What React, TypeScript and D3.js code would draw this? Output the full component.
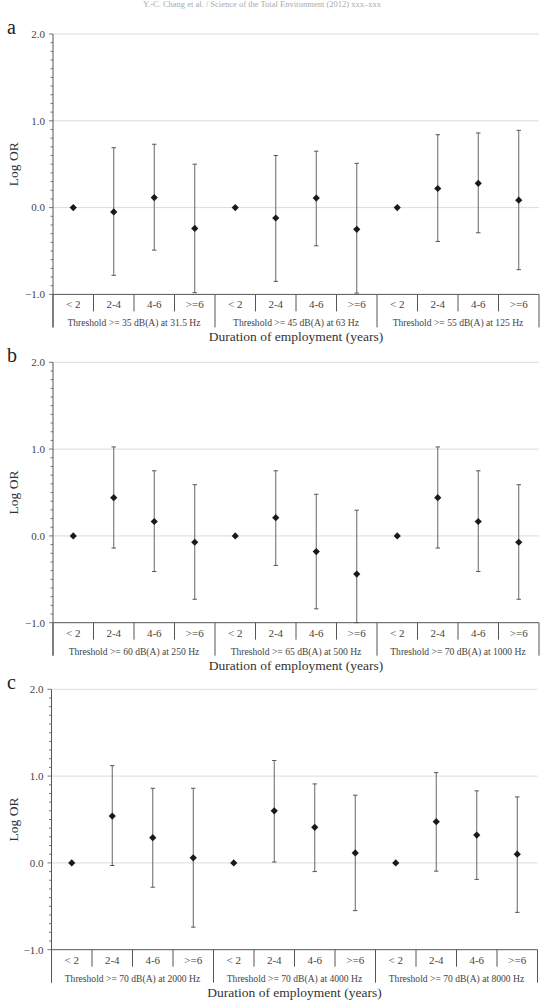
import React, { useRef, useEffect } from 'react';
import { select, scaleLinear, scaleBand, range, format, symbol, symbolSquare } from 'd3';

const width = 546;
const height = 1002;
const unit = 86.8;

const categories = ['< 2', '2-4', '4-6', '>=6'];

const groupsA = ['Threshold >= 35 dB(A) at 31.5 Hz', 'Threshold >= 45 dB(A) at 63 Hz', 'Threshold >= 55 dB(A) at 125 Hz'];
const estA = [0, -0.05, 0.115, -0.24, 0, -0.12, 0.11, -0.25, 0, 0.22, 0.28, 0.085];
const lowA = [null, -0.78, -0.49, -0.98, null, -0.85, -0.44, -0.985, null, -0.39, -0.29, -0.715];
const highA = [null, 0.69, 0.73, 0.5, null, 0.6, 0.65, 0.51, null, 0.84, 0.86, 0.89];

const groupsB = ['Threshold >= 60 dB(A) at 250 Hz', 'Threshold >= 65 dB(A) at 500 Hz', 'Threshold >= 70 dB(A) at 1000 Hz'];
const estB = [0, 0.44, 0.166, -0.073, 0, 0.21, -0.18, -0.44, 0, 0.44, 0.166, -0.073];
const lowB = [null, -0.14, -0.41, -0.73, null, -0.34, -0.84, -1.0, null, -0.14, -0.41, -0.73];
const highB = [null, 1.025, 0.75, 0.59, null, 0.75, 0.48, 0.296, null, 1.025, 0.75, 0.59];

const groupsC = ['Threshold >= 70 dB(A) at 2000 Hz', 'Threshold >= 70 dB(A) at 4000 Hz', 'Threshold >= 70 dB(A) at 8000 Hz'];
const estC = [0, 0.54, 0.29, 0.058, 0, 0.6, 0.41, 0.115, 0, 0.475, 0.32, 0.1];
const lowC = [null, -0.03, -0.28, -0.74, null, 0.01, -0.1, -0.55, null, -0.095, -0.19, -0.57];
const highC = [null, 1.12, 0.86, 0.86, null, 1.18, 0.91, 0.78, null, 1.04, 0.83, 0.76];

const yTicks = [-1, 0, 1, 2];
const xTitle = 'Duration of employment (years)';
const yTitle = 'Log OR';

const panels = [
    { label: 'a', top: 34, left: 53, right: 539, groups: groupsA, est: estA, low: lowA, high: highA },
    { label: 'b', top: 362.3, left: 53, right: 539, groups: groupsB, est: estB, low: lowB, high: highB },
    { label: 'c', top: 689.3, left: 51.5, right: 537.5, groups: groupsC, est: estC, low: lowC, high: highC },
];

const font = '"Liberation Serif", "Times New Roman", serif';
const axisColor = '#555';

const App = () => {
    const d3svg = useRef(null);

    const drawPanel = (svg, p) => {
        const g = svg.append('g');
        const y = scaleLinear().domain([-1, 2]).range([p.top + 3 * unit, p.top]);
        const x = scaleBand().domain(range(12)).range([p.left, p.right]);
        const base = y(-1);
        const bw = x.bandwidth();

        // panel letter
        g.append('text')
            .attr('x', 7).attr('y', p.top)
            .style('font-size', '20px').style('font-family', font).attr('fill', '#222')
            .text(p.label);

        // gridlines
        g.selectAll('.grid').data(yTicks.filter(d => d > -1)).join('line')
            .attr('x1', p.left).attr('x2', p.right)
            .attr('y1', d => y(d)).attr('y2', d => y(d))
            .attr('stroke', '#dcdcdc').attr('stroke-width', 1);

        // minor + major ticks
        const minor = range(-10, 21).map(d => d / 10);
        g.selectAll('.tick').data(minor).join('line')
            .attr('x1', d => p.left - (Math.abs(d - Math.round(d)) < 1e-6 ? 4 : 2.5)).attr('x2', p.left)
            .attr('y1', d => y(d)).attr('y2', d => y(d))
            .attr('stroke', axisColor).attr('stroke-width', 0.8);

        g.selectAll('.ylab').data(yTicks).join('text')
            .attr('x', p.left - 8).attr('y', d => y(d)).attr('dy', '0.35em')
            .attr('text-anchor', 'end')
            .style('font-size', '11px').style('font-family', font).attr('fill', '#444')
            .text(d => format('.1f')(d));

        // y axis line (runs down through category box)
        g.append('line')
            .attr('x1', p.left).attr('x2', p.left)
            .attr('y1', y(2)).attr('y2', base + 33)
            .attr('stroke', axisColor);

        g.append('line')
            .attr('x1', p.left).attr('x2', p.right)
            .attr('y1', base).attr('y2', base)
            .attr('stroke', axisColor);

        // category dividers
        g.selectAll('.div').data(range(13)).join('line')
            .attr('x1', i => p.left + i * bw).attr('x2', i => p.left + i * bw)
            .attr('y1', base).attr('y2', i => base + (i % 4 === 0 ? 33 : 17))
            .attr('stroke', axisColor);

        g.selectAll('.cat').data(range(12)).join('text')
            .attr('x', i => x(i) + bw / 2).attr('y', base + 14)
            .attr('text-anchor', 'middle')
            .style('font-size', '11px').style('font-family', font).attr('fill', '#444')
            .text(i => categories[i % 4]);

        g.selectAll('.grp').data(p.groups).join('text')
            .attr('x', (d, i) => p.left + (i * 4 + 2) * bw).attr('y', base + 32)
            .attr('text-anchor', 'middle')
            .style('font-size', '9.6px').style('font-family', font).attr('fill', '#444')
            .text(d => d);

        g.append('text')
            .attr('x', (p.left + p.right) / 2).attr('y', base + 47)
            .attr('text-anchor', 'middle')
            .style('font-size', '13.5px').style('font-family', font).attr('fill', '#333')
            .text(xTitle);

        g.append('text')
            .attr('transform', `translate(18, ${(y(2) + base) / 2}) rotate(-90)`)
            .attr('text-anchor', 'middle')
            .style('font-size', '13.5px').style('font-family', font).attr('fill', '#333')
            .text(yTitle);

        // error bars
        const bars = range(12).filter(i => p.low[i] !== null);
        g.selectAll('.err').data(bars).join('line')
            .attr('x1', i => x(i) + bw / 2).attr('x2', i => x(i) + bw / 2)
            .attr('y1', i => y(p.low[i])).attr('y2', i => y(p.high[i]))
            .attr('stroke', '#666').attr('stroke-width', 1);

        const caps = bars.flatMap(i => [[i, p.low[i]], [i, p.high[i]]]);
        g.selectAll('.cap').data(caps).join('line')
            .attr('x1', d => x(d[0]) + bw / 2 - 2.2).attr('x2', d => x(d[0]) + bw / 2 + 2.2)
            .attr('y1', d => y(d[1])).attr('y2', d => y(d[1]))
            .attr('stroke', '#555').attr('stroke-width', 1);

        // points
        g.selectAll('.pt').data(p.est).join('path')
            .attr('d', symbol(symbolSquare, 26)())
            .attr('transform', (d, i) => `translate(${x(i) + bw / 2}, ${y(d)}) rotate(45)`)
            .attr('fill', '#1a1a1a');
    };

    useEffect(() => {
        if (!d3svg.current) return;
        const svg = select(d3svg.current);
        svg.selectAll('*').remove();

        svg.append('rect').attr('width', width).attr('height', height).attr('fill', '#fff');

        svg.append('text')
            .attr('x', 262).attr('y', 7)
            .attr('text-anchor', 'middle')
            .style('font-size', '8.5px').style('font-family', font).attr('fill', '#aaa')
            .text('Y.-C. Chang et al. / Science of the Total Environment (2012) xxx–xxx');

        panels.forEach(p => drawPanel(svg, p));
    }, []);

    return (
        <svg
            width={width}
            height={height}
            ref={d3svg}
            style={{ position: 'absolute', left: 0, top: 0 }}
        ></svg>
    );
};

export default App;
